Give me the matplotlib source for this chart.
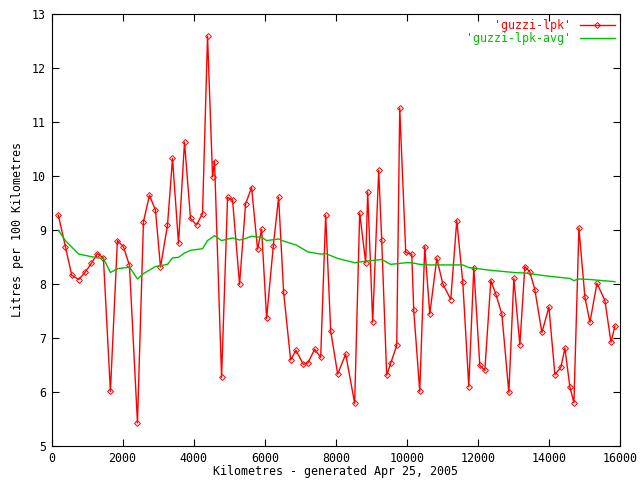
import numpy as np
import matplotlib
matplotlib.use("Agg")
import matplotlib.pyplot as plt

# fuel consumption readings (km, litres per 100 km)
km = [192, 390, 568, 765, 953, 1122, 1291, 1460, 1657, 1854, 2023, 2193, 2418, 2587,
      2756, 2925, 3066, 3263, 3404, 3573, 3742, 3911, 4080, 4249, 4390, 4531, 4587,
      4785, 4954, 5094, 5291, 5460, 5629, 5798, 5911, 6052, 6240, 6390, 6531, 6728,
      6878, 7085, 7217, 7404, 7573, 7714, 7855, 8052, 8277, 8530, 8671, 8840, 8896,
      9037, 9206, 9290, 9431, 9544, 9713, 9798, 9967, 10136, 10192, 10361, 10502,
      10643, 10841, 11009, 11234, 11403, 11572, 11741, 11882, 12051, 12192, 12361,
      12502, 12671, 12868, 13009, 13178, 13318, 13459, 13600, 13798, 13995, 14164,
      14333, 14445, 14586, 14699, 14840, 15009, 15150, 15347, 15572, 15741, 15854]
lpk = [9.27, 8.69, 8.16, 8.08, 8.22, 8.38, 8.56, 8.48, 6.01, 8.80, 8.69, 8.34, 5.43, 9.15,
       9.64, 9.36, 8.31, 9.08, 10.32, 8.75, 10.62, 9.21, 9.09, 9.30, 12.58, 9.98, 10.26,
       6.27, 9.60, 9.55, 7.99, 9.48, 9.78, 8.64, 9.01, 7.36, 8.70, 9.60, 7.84, 6.59,
       6.77, 6.51, 6.54, 6.79, 6.64, 9.27, 7.13, 6.33, 6.70, 5.79, 9.31, 8.39, 9.70,
       7.29, 10.10, 8.82, 6.31, 6.53, 6.86, 11.25, 8.58, 8.55, 7.51, 6.01, 8.69,
       7.44, 8.47, 8.00, 7.71, 9.17, 8.03, 6.10, 8.30, 6.49, 6.40, 8.06,
       7.81, 7.44, 5.99, 8.10, 6.87, 8.32, 8.22, 7.89, 7.10, 7.57, 6.32,
       6.46, 6.81, 6.09, 5.80, 9.03, 7.75, 7.29, 8.01, 7.69, 6.92, 7.22]

# running average
avg_km = [192, 390, 765, 1291, 1460, 1657, 1854, 2193, 2418, 2587, 2925, 3263, 3404,
          3573, 3742, 3911, 4249, 4390, 4587, 4785, 5094, 5291, 5460, 5629, 5911,
          6052, 6390, 6531, 6878, 7217, 7573, 7714, 8052, 8530, 8840, 9290, 9544,
          9967, 10136, 10361, 10643, 11572, 11741, 12361, 13009, 13318, 13995,
          14586, 14699, 14840, 15150, 15854]
avg = [8.99, 8.80, 8.55, 8.48, 8.47, 8.21, 8.28, 8.31, 8.09, 8.19, 8.32, 8.36, 8.48,
       8.49, 8.57, 8.62, 8.65, 8.80, 8.89, 8.80, 8.85, 8.81, 8.84, 8.88, 8.86,
       8.80, 8.83, 8.79, 8.72, 8.59, 8.55, 8.56, 8.47, 8.39, 8.42, 8.45, 8.36,
       8.39, 8.39, 8.36, 8.35, 8.35, 8.30, 8.25, 8.21, 8.20, 8.14,
       8.10, 8.06, 8.09, 8.08, 8.04]

plt.rcParams['font.family'] = ['DejaVu Sans Mono']
plt.rcParams['font.size'] = 8.4

fig = plt.figure(figsize=(6.4, 4.8), dpi=100)
ax = fig.add_axes([0.0805, 0.0708, 0.8885, 0.901])

ax.plot(km, lpk, color='#ff0000', lw=1, marker='D', ms=3, mfc='none', mew=0.7,
        label="'guzzi-lpk'")
ax.plot(avg_km, avg, color='#00c000', lw=1, label="'guzzi-lpk-avg'")

ax.set_xlim(0, 16000)
ax.set_ylim(5, 13)
ax.set_xticks(np.arange(0, 16001, 2000))
ax.set_yticks(np.arange(5, 14, 1))
ax.tick_params(direction='in', length=5, top=True, right=True, colors='black', pad=4)
ax.set_xlabel("Kilometres - generated Apr 25, 2005", labelpad=0)
ax.set_ylabel("Litres per 100 Kilometres", labelpad=6)

leg = ax.legend(loc='upper right', frameon=False, markerfirst=False, numpoints=1,
                labelcolor='linecolor', handlelength=3.0, handletextpad=0.8,
                labelspacing=0.05, borderaxespad=0.15, borderpad=0.3)

fig.savefig("out.png", dpi=100)
